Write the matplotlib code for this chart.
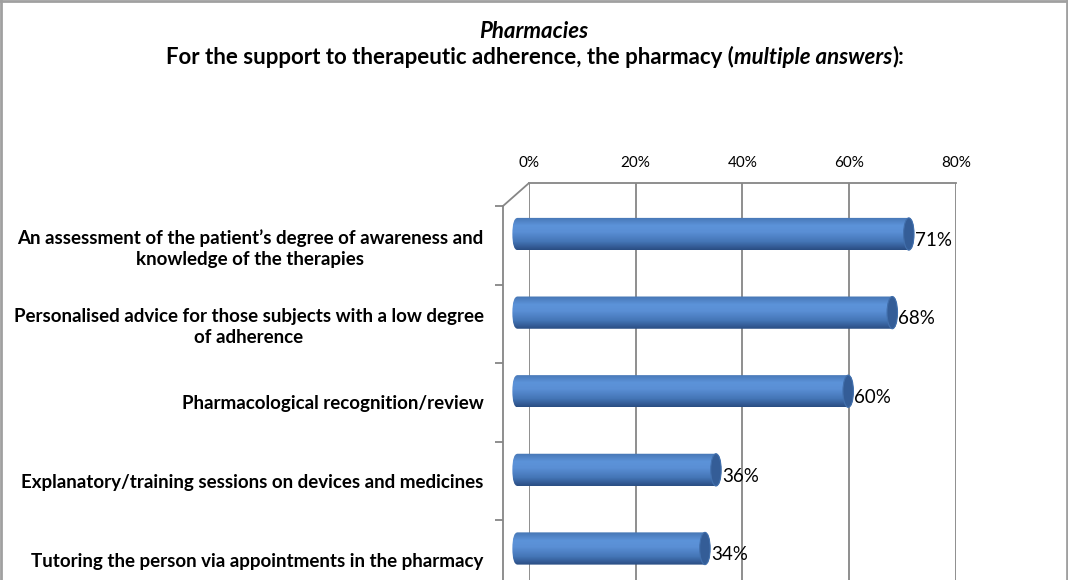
#!/usr/bin/env python3
"""
Pharmacies - support to therapeutic adherence (3D-style cylinder bar chart)
"""

import numpy as np
import matplotlib
matplotlib.use('Agg')
import matplotlib.pyplot as plt
from matplotlib.colors import LinearSegmentedColormap
from matplotlib.patches import FancyBboxPatch, Ellipse
from matplotlib.lines import Line2D

plt.rcParams['font.family'] = ['Lato', 'DejaVu Sans']

categories = [
    "An assessment of the patient\u2019s degree of awareness and\nknowledge of the therapies",
    "Personalised advice for those subjects with a low degree\nof adherence",
    "Pharmacological recognition/review",
    "Explanatory/training sessions on devices and medicines",
    "Tutoring the person via appointments in the pharmacy",
]
values = [71, 68, 60, 36, 34]
x_ticks = [0, 20, 40, 60, 80]
x_tick_labels = ['0%', '20%', '40%', '60%', '80%']

title_1 = "Pharmacies"
title_2 = [("For the support to therapeutic adherence, the pharmacy (", 'normal'),
           ("multiple answers", 'italic'),
           ("):", 'normal')]

GRID = '#868686'
W, H = 1068, 580


def box(x0, y0, x1, y1):
    """pixel box (top-left origin) -> figure fraction rect"""
    return [x0 / W, 1 - y1 / H, (x1 - x0) / W, (y1 - y0) / H]


fig = plt.figure(figsize=(W / 100, H / 100), dpi=100)
fig.patch.set_facecolor('white')

# back wall: gridlines + percent ticks
back = fig.add_axes(box(528.7, 183.3, 956, 640))
back.set_xlim(0, 80)
back.set_ylim(0, 1)
back.xaxis.tick_top()
back.set_xticks(x_ticks)
back.set_xticklabels(x_tick_labels, fontsize=11)
back.set_yticks([])
back.tick_params(axis='x', length=0, pad=9.5)
back.grid(True, axis='x', color=GRID, linewidth=1.3)
for name, spine in back.spines.items():
    spine.set_visible(name == 'top')
    spine.set_color(GRID)
    spine.set_linewidth(1.3)

# front category axis
n = len(categories)
front = fig.add_axes(box(503, 206, 510, 206 + 78.6 * n))
front.set_ylim(n, 0)
front.set_xlim(0, 1)
front.patch.set_visible(False)
front.set_xticks([])
front.set_yticks(np.arange(n + 1))
front.set_yticklabels([])
front.set_yticks(np.arange(n) + 0.5, minor=True)
front.set_yticklabels(categories, minor=True, fontsize=13.5, fontweight='bold',
                      multialignment='center', linespacing=1.25)
front.tick_params(axis='y', which='major', length=6, color=GRID, width=1.3)
front.tick_params(axis='y', which='minor', length=0, pad=14)
for name, spine in front.spines.items():
    spine.set_visible(name == 'left')
    spine.set_color(GRID)
    spine.set_linewidth(1.3)

# depth line joining front axis to back wall
fig.add_artist(Line2D([503 / W, 528.7 / W], [1 - 206 / H, 1 - 183.3 / H],
                      color=GRID, linewidth=1.3, transform=fig.transFigure))

# cylinders (x=0 sits at 517.6 px, 5.51 px per %)
px = 5.51
bars = fig.add_axes(box(517.6 - 2 * px, 194.7, 958.4, 587.8))
bars.axis('off')

cmap = LinearSegmentedColormap.from_list('cyl', [
    (0.0, '#4676b4'), (0.25, '#5c93d9'), (0.45, '#5a8fd5'),
    (0.75, '#4475b6'), (1.0, '#2a4d83')])
grad = np.linspace(0, 1, 64).reshape(-1, 1)
bar_h = 0.41
cap = 0.95
for i, v in enumerate(values):
    top, bot = i - bar_h / 2, i + bar_h / 2
    body = FancyBboxPatch((-cap, top), v + 2 * cap, bar_h,
                          boxstyle=f"round,pad=0,rounding_size={cap}",
                          mutation_aspect=bar_h / (2 * cap),
                          facecolor='none', edgecolor='none')
    bars.add_patch(body)
    im = bars.imshow(grad, cmap=cmap, aspect='auto', origin='upper',
                     extent=(-cap, v + cap, bot, top), interpolation='bilinear')
    im.set_clip_path(body)
    bars.add_patch(Ellipse((v, i), 2 * cap, bar_h, facecolor='#345d97',
                           edgecolor='#4270ad', linewidth=0.8))
    bars.text(v + cap + 0.1, i + 0.08, f'{v}%', ha='left', va='center',
              fontsize=13.5, color='black')
bars.set_xlim(-2, 80)
bars.set_ylim(n - 0.5, -0.5)

# titles
fig.text(534 / W, 1 - 32 / H, title_1, ha='center', va='center',
         fontsize=16, fontweight='bold', fontstyle='italic')
renderer = fig.canvas.get_renderer()
pieces = []
for txt, style in title_2:
    t = fig.text(0, 1 - 57 / H, txt, ha='left', va='center', fontsize=16,
                 fontweight='bold', fontstyle=style)
    pieces.append(t)
widths = [p.get_window_extent(renderer).width for p in pieces]
x = 535 - sum(widths) / 2
for p, w in zip(pieces, widths):
    p.set_x(x / W)
    x += w

# grey frame (left, top, right)
for xs, ys in [([1 / W, 1 / W], [0, 1]), ([0, 1], [1 - 1 / H, 1 - 1 / H]),
               ([1 - 1.5 / W, 1 - 1.5 / W], [0, 1])]:
    fig.add_artist(Line2D(xs, ys, color='#a0a0a0', linewidth=2,
                          transform=fig.transFigure))

fig.savefig('out.png', dpi=100, facecolor='white')
plt.close(fig)
